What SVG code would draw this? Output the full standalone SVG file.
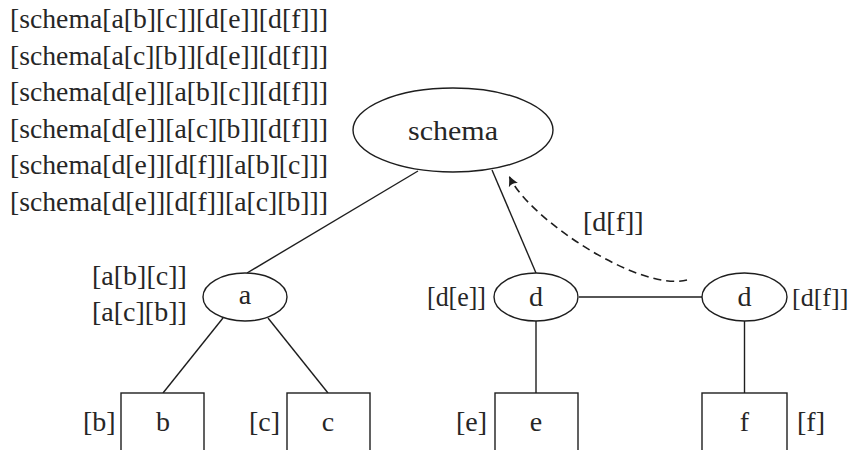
<svg xmlns="http://www.w3.org/2000/svg" width="851" height="450" viewBox="0 0 851 450">
  <style>
    text { font-family: "Liberation Serif", "DejaVu Serif", serif; font-size: 28px; fill: #262626; }
    .mid { text-anchor: middle; }
    .node { fill: #ffffff; stroke: #1e1e1e; stroke-width: 1.4; }
    .edge { fill: none; stroke: #1e1e1e; stroke-width: 1.4; }
    .dash { fill: none; stroke: #1e1e1e; stroke-width: 1.6; stroke-dasharray: 8 5; }
  </style>
  <defs>
    <marker id="tip" markerWidth="12" markerHeight="12" refX="9" refY="5" orient="auto" markerUnits="userSpaceOnUse" viewBox="0 0 12 10">
      <path d="M0,0 Q5,3 10,5 Q5,7 0,10 Q3,5 0,0 Z" fill="#1e1e1e"/>
    </marker>
  </defs>
  <rect width="851" height="450" fill="#ffffff"/>

  <!-- enumerated orderings -->
  <g id="orderings">
    <text x="10" y="28" textLength="318" lengthAdjust="spacingAndGlyphs">[schema[a[b][c]][d[e]][d[f]]]</text>
    <text x="10" y="64.5" textLength="318" lengthAdjust="spacingAndGlyphs">[schema[a[c][b]][d[e]][d[f]]]</text>
    <text x="10" y="101" textLength="318" lengthAdjust="spacingAndGlyphs">[schema[d[e]][a[b][c]][d[f]]]</text>
    <text x="10" y="137.5" textLength="318" lengthAdjust="spacingAndGlyphs">[schema[d[e]][a[c][b]][d[f]]]</text>
    <text x="10" y="174" textLength="318" lengthAdjust="spacingAndGlyphs">[schema[d[e]][d[f]][a[b][c]]]</text>
    <text x="10" y="210.5" textLength="318" lengthAdjust="spacingAndGlyphs">[schema[d[e]][d[f]][a[c][b]]]</text>
  </g>

  <!-- connectors -->
  <g id="connectors">
    <line class="edge" x1="418" y1="171" x2="247" y2="273"/>
    <line class="edge" x1="492" y1="170" x2="536" y2="273"/>
    <line class="edge" x1="223" y1="318" x2="163" y2="393"/>
    <line class="edge" x1="268" y1="318" x2="328" y2="393"/>
    <line class="edge" x1="579" y1="297" x2="702" y2="297"/>
    <line class="edge" x1="536" y1="321" x2="536" y2="393"/>
    <line class="edge" x1="744.5" y1="321" x2="744.5" y2="393"/>
    <path class="dash" d="M687,280 C640,292 530,220 509.5,177" marker-end="url(#tip)"/>
    <text x="583" y="231">[d[f]]</text>
  </g>

  <g id="node-schema">
    <ellipse class="node" cx="453" cy="130" rx="100" ry="42"/>
    <text class="mid" x="453" y="140" textLength="90" lengthAdjust="spacingAndGlyphs">schema</text>
  </g>

  <g id="node-a">
    <ellipse class="node" cx="245" cy="297" rx="42" ry="24"/>
    <text class="mid" x="245" y="304">a</text>
    <text x="92" y="285">[a[b][c]]</text>
    <text x="92" y="321">[a[c][b]]</text>
  </g>

  <g id="node-b">
    <rect class="node" x="121" y="393" width="83" height="70"/>
    <text class="mid" x="163" y="431">b</text>
    <text x="83" y="431">[b]</text>
  </g>

  <g id="node-c">
    <rect class="node" x="287" y="393" width="83" height="70"/>
    <text class="mid" x="328" y="431">c</text>
    <text x="249" y="431">[c]</text>
  </g>

  <g id="node-d1">
    <ellipse class="node" cx="536" cy="297" rx="42" ry="24"/>
    <text class="mid" x="536" y="306">d</text>
    <text x="427" y="306" textLength="59" lengthAdjust="spacingAndGlyphs">[d[e]]</text>
  </g>

  <g id="node-d2">
    <ellipse class="node" cx="744.5" cy="297" rx="42.5" ry="24"/>
    <text class="mid" x="744.5" y="306">d</text>
    <text x="792" y="306" style="font-size:26px">[d[f]]</text>
  </g>

  <g id="node-e">
    <rect class="node" x="495" y="393" width="83" height="70"/>
    <text class="mid" x="536" y="431">e</text>
    <text x="456" y="431">[e]</text>
  </g>

  <g id="node-f">
    <rect class="node" x="702" y="393" width="85" height="70"/>
    <text class="mid" x="744.5" y="431">f</text>
    <text x="797" y="431">[f]</text>
  </g>
</svg>
